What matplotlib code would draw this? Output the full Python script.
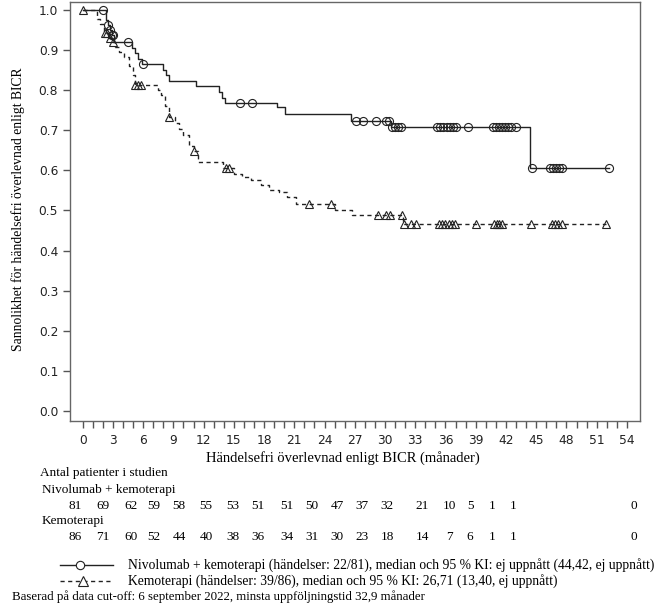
import matplotlib
matplotlib.use("Agg")

import matplotlib.pyplot as plt
from matplotlib.lines import Line2D
import numpy as np


# Nivolumab + kemoterapi: step times (months) and survival after each step
nivo_times = [0, 2.3, 2.5, 2.7, 2.9, 3.1, 4.9, 5.2, 5.5, 5.9, 8.0, 8.3, 8.6,
              11.2, 13.5, 13.8, 14.1, 19.3, 20.1, 26.6, 30.6, 44.4]
nivo_surv = [1.0, 0.975, 0.963, 0.950, 0.938, 0.919, 0.905, 0.892, 0.879,
             0.866, 0.850, 0.837, 0.824, 0.810, 0.795, 0.781, 0.767, 0.757,
             0.741, 0.724, 0.708, 0.607]
nivo_censored = [2.0, 2.5, 2.7, 2.9, 3.0, 4.5, 6.0, 15.6, 16.8, 27.1, 27.8,
                 29.1, 30.1, 30.4, 30.7, 31.0, 31.3, 31.6, 35.2, 35.5, 35.8,
                 36.1, 36.4, 36.7, 37.0, 38.2, 40.7, 41.0, 41.3, 41.6, 41.9,
                 42.2, 42.5, 43.0, 44.6, 46.4, 46.7, 47.0, 47.3, 47.6, 52.2]

# Kemoterapi
chemo_times = [0, 1.4, 1.7, 2.1, 2.5, 2.8, 3.2, 3.6, 4.1, 4.6, 5.0, 5.2,
               7.5, 7.8, 8.2, 8.6, 9.2, 9.6, 10.0, 10.5, 11.0, 11.4, 13.9,
               15.0, 15.8, 16.7, 17.7, 18.5, 19.5, 20.3, 21.2, 25.0, 26.7,
               31.8]
chemo_surv = [1.0, 0.977, 0.965, 0.942, 0.930, 0.919, 0.907, 0.895, 0.884,
              0.860, 0.837, 0.812, 0.800, 0.787, 0.760, 0.732, 0.718, 0.703,
              0.689, 0.662, 0.648, 0.621, 0.606, 0.592, 0.583, 0.575, 0.563,
              0.550, 0.545, 0.533, 0.517, 0.500, 0.488, 0.467]
chemo_censored = [0.0, 2.2, 2.4, 2.7, 3.0, 5.2, 5.5, 5.8, 8.6, 11.0, 14.2,
                  14.5, 22.5, 24.6, 29.3, 30.1, 30.5, 31.7, 31.9, 32.6, 33.1,
                  35.4, 35.7, 36.0, 36.3, 36.6, 36.9, 39.0, 40.8, 41.1, 41.3,
                  41.6, 44.5, 46.6, 46.9, 47.2, 47.6, 51.9]

risk_nivo = [81, 69, 62, 59, 58, 55, 53, 51, 51, 50, 47, 37, 32, 21, 10, 5, 1, 1, 0]
risk_chemo = [86, 71, 60, 52, 44, 40, 38, 36, 34, 31, 30, 23, 18, 14, 7, 6, 1, 1, 0]

nivo_label = ("Nivolumab + kemoterapi (händelser: 22/81), median och 95 % KI: "
              "ej uppnått (44,42, ej uppnått)")
chemo_label = ("Kemoterapi (händelser: 39/86), median och 95 % KI: 26,71 "
               "(13,40, ej uppnått)")
footnote = "Baserad på data cut-off: 6 september 2022, minsta uppföljningstid 32,9 månader"

# layout (pixels of the 657x610 canvas)
W, H = 657, 610
RISK_COL_PX = [75, 103, 131, 154, 179, 206, 233, 258, 287, 312, 337, 362,
               387, 422, 449, 470, 492, 513, 634]
SERIF = ["Liberation Serif", "DejaVu Serif"]
SANS = ["DejaVu Sans"]
LINE_COLOR = "#222222"
DASH = (0, (3, 2.5))


def surv_at(times, surv, t):
    idx = np.searchsorted(np.asarray(times), np.asarray(t), side="right") - 1
    return np.asarray(surv)[idx]


def fy(py):
    return 1 - py / H


def fx(px):
    return px / W


fig = plt.figure(figsize=(W / 100, H / 100), dpi=100)
ax = fig.add_axes([fx(70), fy(421), fx(640) - fx(70), fy(2) - fy(421)])

ax.step(nivo_times + [52.2], nivo_surv + [nivo_surv[-1]], where="post",
        color=LINE_COLOR, linewidth=1.0)
ax.plot(nivo_censored, surv_at(nivo_times, nivo_surv, nivo_censored),
        linestyle="none", marker="o", markersize=5.8, markerfacecolor="none",
        markeredgecolor=LINE_COLOR, markeredgewidth=0.8)

ax.step(chemo_times + [51.9], chemo_surv + [chemo_surv[-1]], where="post",
        color=LINE_COLOR, linewidth=1.0, linestyle=DASH)
ax.plot(chemo_censored, surv_at(chemo_times, chemo_surv, chemo_censored),
        linestyle="none", marker="^", markersize=5.8, markerfacecolor="none",
        markeredgecolor=LINE_COLOR, markeredgewidth=0.8)

ax.set_xlim(-1.26, 55.3)
ax.set_ylim(-0.025, 1.02)

ax.set_xticks(range(0, 55))
ax.set_xticklabels([str(m) if m % 3 == 0 else "" for m in range(0, 55)])
ax.set_yticks(np.arange(0, 1.01, 0.1))
ax.set_yticklabels([f"{v:.1f}" for v in np.arange(0, 1.01, 0.1)])
ax.tick_params(axis="both", direction="out", length=5, width=1,
               color="#555555", labelcolor="#222222", labelsize=8.8)
ax.tick_params(axis="x", pad=4)
for label in ax.get_xticklabels() + ax.get_yticklabels():
    label.set_family(SANS)

for spine in ax.spines.values():
    spine.set_color("#666666")
    spine.set_linewidth(1.0)

fig.text(fx(18), fy(209), "Sannolikhet för händelsefri överlevnad enligt BICR",
         family=SERIF, fontsize=9.8, rotation=90, ha="center", va="center")
fig.text(fx(343), fy(458), "Händelsefri överlevnad enligt BICR (månader)",
         family=SERIF, fontsize=10.5, ha="center", va="center")

# number at risk table
fig.text(fx(40), fy(473), "Antal patienter i studien", family=SERIF,
         fontsize=9.5, va="center")
fig.text(fx(42), fy(490), "Nivolumab + kemoterapi", family=SERIF,
         fontsize=9.5, va="center")
fig.text(fx(42), fy(521), "Kemoterapi", family=SERIF, fontsize=9.5,
         va="center")
for px, n1, n2 in zip(RISK_COL_PX, risk_nivo, risk_chemo):
    fig.text(fx(px), fy(506), str(n1), family=SERIF, fontsize=9.5,
             ha="center", va="center")
    fig.text(fx(px), fy(537), str(n2), family=SERIF, fontsize=9.5,
             ha="center", va="center")

# legend
fig.add_artist(Line2D([fx(60), fx(113)], [fy(565), fy(565)],
                      transform=fig.transFigure, color=LINE_COLOR, linewidth=1.0))
fig.add_artist(Line2D([fx(80)], [fy(565)], transform=fig.transFigure,
                      marker="o", markersize=6, markerfacecolor="white",
                      markeredgecolor=LINE_COLOR, markeredgewidth=0.8))
fig.add_artist(Line2D([fx(60), fx(113)], [fy(581), fy(581)],
                      transform=fig.transFigure, color=LINE_COLOR,
                      linewidth=1.0, linestyle=DASH))
fig.add_artist(Line2D([fx(83)], [fy(581)], transform=fig.transFigure,
                      marker="^", markersize=7, markerfacecolor="white",
                      markeredgecolor=LINE_COLOR, markeredgewidth=0.8))
fig.text(fx(128), fy(565), nivo_label, family=SERIF, fontsize=9.8, va="center")
fig.text(fx(128), fy(581), chemo_label, family=SERIF, fontsize=9.8, va="center")
fig.text(fx(12), fy(597), footnote, family=SERIF, fontsize=9.3, va="center")

fig.savefig("out.png", dpi=100)
